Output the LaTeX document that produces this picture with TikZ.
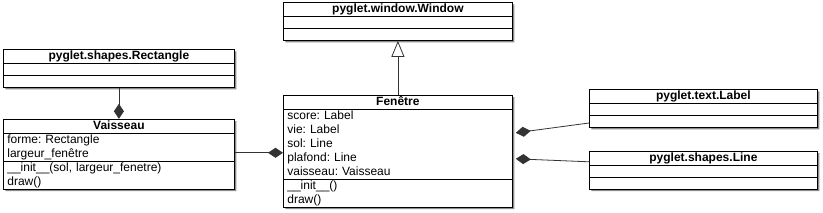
\documentclass[tikz,border=0pt]{standalone}
\usepackage{fontspec}
\setmainfont{Liberation Sans}
\usetikzlibrary{shapes.multipart, arrows.meta, positioning, shadows, calc}
\tikzset{
    umlclass/.style={rectangle split, rectangle split parts=3, draw=black, line width=0.8pt, fill=white, text width=221pt, inner xsep=4pt, inner ysep=-0.4pt, align=left, font=\fontsize{12}{14}\selectfont\frenchspacing, drop shadow={shadow xshift=2pt, shadow yshift=-2pt, fill=black!45, opacity=1}},
    comp/.style={-{Diamond[length=15pt, width=10pt]}, line width=0.8pt, draw=black!80},
    inh/.style={-{Triangle[open, length=16pt, width=13pt, fill=white]}, line width=0.8pt, draw=black!80}
}
\newcommand{\umlempty}{\rule{0pt}{12pt}}
\newcommand{\umltitle}[1]{\makebox[\linewidth][c]{\strut\textbf{#1}}}

\begin{document}
\begin{tikzpicture}[x=1pt, y=1pt]
        \useasboundingbox (0,0) rectangle (823,-212);

        \node[umlclass, anchor=north west] (window) at (283,-2) {\umltitle{pyglet.window.Window}\nodepart{second}\umlempty\nodepart{third}\umlempty};
        \node[umlclass, below=54pt of window] (fenetre) {\umltitle{Fenêtre}
            \nodepart{second}\strut score: Label\\vie: Label\\sol: Line\\plafond: Line\\vaisseau: Vaisseau\strut
            \nodepart{third}\strut\_\_init\_\_()\\draw()\strut};
        \draw[inh] (fenetre) -- (window);

        \node[umlclass, anchor=north west, text width=223pt] (rectangle) at (3,-49) {\umltitle{pyglet.shapes.Rectangle}\nodepart{second}\umlempty\nodepart{third}\umlempty};
        \node[umlclass, below=31pt of rectangle, text width=223pt] (vaisseau) {\umltitle{Vaisseau}
            \nodepart{second}\strut forme: Rectangle\\largeur\_fenêtre\strut
            \nodepart{third}\strut\_\_init\_\_(sol, largeur\_fenetre)\\draw()\strut};
        \draw[comp] (rectangle) -- (vaisseau);
        \draw[comp] ($(vaisseau.north east)+(0,-34)$) -- ($(fenetre.north west)+(0,-58)$);

        \node[umlclass, anchor=north west, text width=220pt] (label) at (589,-89) {\umltitle{pyglet.text.Label}\nodepart{second}\umlempty\nodepart{third}\umlempty};
        \node[umlclass, below=23pt of label, text width=220pt] (line) {\umltitle{pyglet.shapes.Line}\nodepart{second}\umlempty\nodepart{third}\umlempty};
        \draw[comp] ($(label.north west)+(0,-34)$) -- ($(fenetre.north east)+(3,-38)$);
        \draw[comp] ($(line.north west)+(0,-11)$) -- ($(fenetre.north east)+(3,-64)$);
\end{tikzpicture}
\end{document}
